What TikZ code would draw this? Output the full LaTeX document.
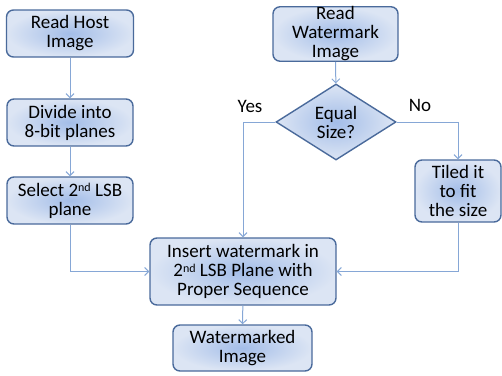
\documentclass[tikz,border=0pt]{standalone}
\usepackage{fontspec}
\setmainfont{Carlito}
\usetikzlibrary{shapes.geometric,arrows.meta}
\definecolor{boxline}{HTML}{4A6A9B}
\definecolor{boxin}{HTML}{A3BDE8}
\definecolor{boxout}{HTML}{DCE5F4}
\definecolor{flow}{HTML}{86A7D6}
\newcommand{\ordsup}[1]{\raisebox{0.5ex}{\fontsize{12}{12}\selectfont #1}}
\tikzset{
  stepbox/.style={draw=boxline, line width=1.4pt, rounded corners=7pt,
    inner color=boxin, outer color=boxout, align=center, inner sep=0pt,
    font=\fontsize{19}{19}\selectfont},
  decision/.style={diamond, draw=boxline, line width=1.4pt,
    inner color=boxin, outer color=boxout, align=center, inner sep=0pt,
    minimum width=120pt, minimum height=76pt,
    font=\fontsize{19}{19}\selectfont},
  flowline/.style={draw=flow, line width=1pt,
    -{Straight Barb[length=4pt,width=8pt]}},
  branch/.style={font=\fontsize{19}{19}\selectfont}
}
\begin{document}
\begin{tikzpicture}[x=1pt,y=-1pt]
\useasboundingbox (0,0) rectangle (502,375);
% left column
\node[stepbox, minimum width=127pt, minimum height=47pt] (host) at (70,33.5) {Read Host\\Image};
\node[stepbox, minimum width=126pt, minimum height=47pt] (planes) at (70,122.5) {Divide into\\8-bit planes};
\node[stepbox, minimum width=126pt, minimum height=47pt] (lsb) at (70,200.5) {Select 2\ordsup{nd} LSB\\plane};
% right column
\node[stepbox, minimum width=125pt, minimum height=52pt] (wm) at (335.5,34) {Read\\Watermark\\Image};
\node[decision] (equal) at (336,122) {Equal\\Size?};
\node[stepbox, minimum width=86pt, minimum height=62pt] (tile) at (458,191) {Tiled it\\to fit\\the size};
% bottom
\node[stepbox, minimum width=186pt, minimum height=67pt] (insert) at (243,271.5) {Insert watermark in\\2\ordsup{nd} LSB Plane with\\Proper Sequence};
\node[stepbox, minimum width=139pt, minimum height=46pt] (marked) at (242.5,348) {Watermarked\\Image};
% connectors
\draw[flowline] (host) -- (planes);
\draw[flowline] (planes) -- (lsb);
\draw[flowline] (lsb.south) |- (insert.west);
\draw[flowline] (wm) -- (equal);
\draw[flowline] (equal.west) -| (insert.north);
\draw[flowline] (equal.east) -| (tile.north);
\draw[flowline] (tile.south) |- (insert.east);
\draw[flowline] (insert) -- (marked);
\node[branch] (yes) at (250,106) {Yes};
\node[branch] (no) at (420,105) {No};
\end{tikzpicture}
\end{document}
